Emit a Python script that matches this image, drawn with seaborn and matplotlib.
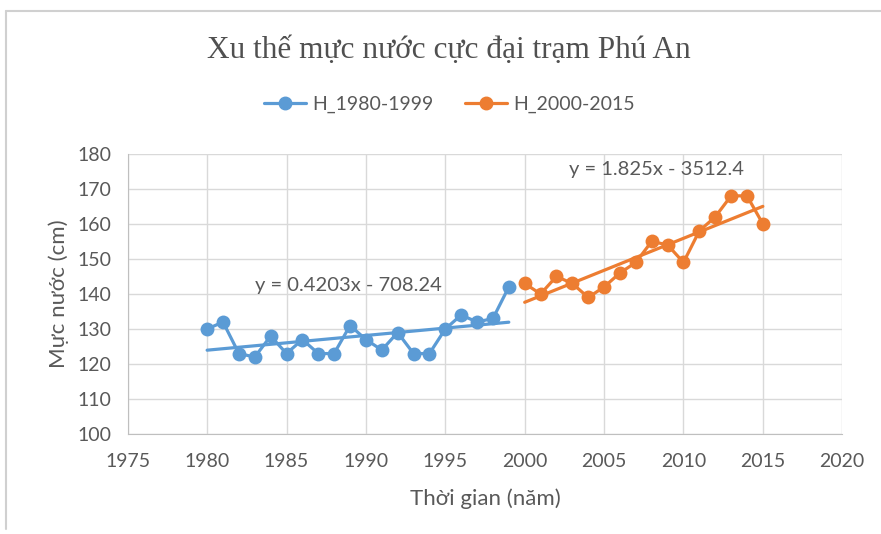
import numpy as np
import pandas as pd
import matplotlib
matplotlib.use("Agg")
import matplotlib.pyplot as plt
import seaborn as sns
from matplotlib.lines import Line2D

# Data
years_1 = list(range(1980, 2000))
h_1 = [130, 132, 123, 122, 128, 123, 127, 123, 123, 131,
       127, 124, 129, 123, 123, 130, 134, 132, 133, 142]
years_2 = list(range(2000, 2016))
h_2 = [143, 140, 145, 143, 139, 142, 146, 149, 155, 154,
       149, 158, 162, 168, 168, 160]
eq_1 = "y = 0.4203x - 708.24"
eq_2 = "y = 1.825x - 3512.4"

blue = "#5B9BD5"
orange = "#ED7D31"
gray = "#595959"

df1 = pd.DataFrame({"Năm": years_1, "H": h_1})
df2 = pd.DataFrame({"Năm": years_2, "H": h_2})

sns.set_style("white")
plt.rcParams['font.family'] = ['Lato', 'DejaVu Sans']

fig = plt.figure(figsize=(8.81, 5.34), dpi=100)
ax = fig.add_axes([0.145, 0.187, 0.811, 0.525])

for d, c in [(df1, blue), (df2, orange)]:
    sns.lineplot(data=d, x="Năm", y="H", ax=ax, color=c, lw=2.3,
                 marker="o", markersize=10, markeredgewidth=0, zorder=3)
    sns.regplot(data=d, x="Năm", y="H", ax=ax, ci=None, scatter=False,
                truncate=True, line_kws={"color": c, "lw": 2.3, "zorder": 2})

ax.set_xlim(1975, 2020)
ax.set_ylim(100, 180)
ax.set_xticks(range(1975, 2021, 5))
ax.set_yticks(range(100, 181, 10))
ax.grid(True, color="#D9D9D9", lw=1)
ax.set_axisbelow(True)
for s in ["top", "right"]:
    ax.spines[s].set_visible(False)
for s in ["left", "bottom"]:
    ax.spines[s].set_color("#BFBFBF")
ax.tick_params(axis="both", colors=gray, labelsize=14, length=4.5,
               color="#BFBFBF", direction="out")
ax.tick_params(axis="x", pad=9)
ax.tick_params(axis="y", pad=7)
ax.set_xlabel("Thời gian (năm)", fontsize=16, color=gray, labelpad=13)
ax.set_ylabel("Mực nước (cm)", fontsize=16, color=gray, labelpad=6)

ax.text(1988.9, 142.5, eq_1, fontsize=14.5, color=gray, ha="center", va="center")
ax.text(2008.3, 175.4, eq_2, fontsize=14.5, color=gray, ha="center", va="center")

fig.text(0.51, 0.905, "Xu thế mực nước cực đại trạm Phú An", ha="center", va="center",
         fontsize=22.5, color="#505050", family=['Liberation Serif', 'DejaVu Serif'])

handles = [Line2D([], [], color=blue, lw=2.3, marker="o", markersize=9),
           Line2D([], [], color=orange, lw=2.3, marker="o", markersize=9)]
fig.legend(handles, ["H_1980-1999", "H_2000-2015"], loc="center",
           bbox_to_anchor=(0.51, 0.805), ncol=2, frameon=False,
           fontsize=14, labelcolor=gray, handlelength=2.2, handletextpad=0.3,
           columnspacing=1.6)

# outer chart border
fig.add_artist(Line2D([0.007, 0.007], [0.01, 0.98], color="#D0D0D0", lw=1.5,
                      transform=fig.transFigure))
fig.add_artist(Line2D([0.007, 1.0], [0.98, 0.98], color="#D0D0D0", lw=1.5,
                      transform=fig.transFigure))

fig.savefig("out.png", dpi=100)
